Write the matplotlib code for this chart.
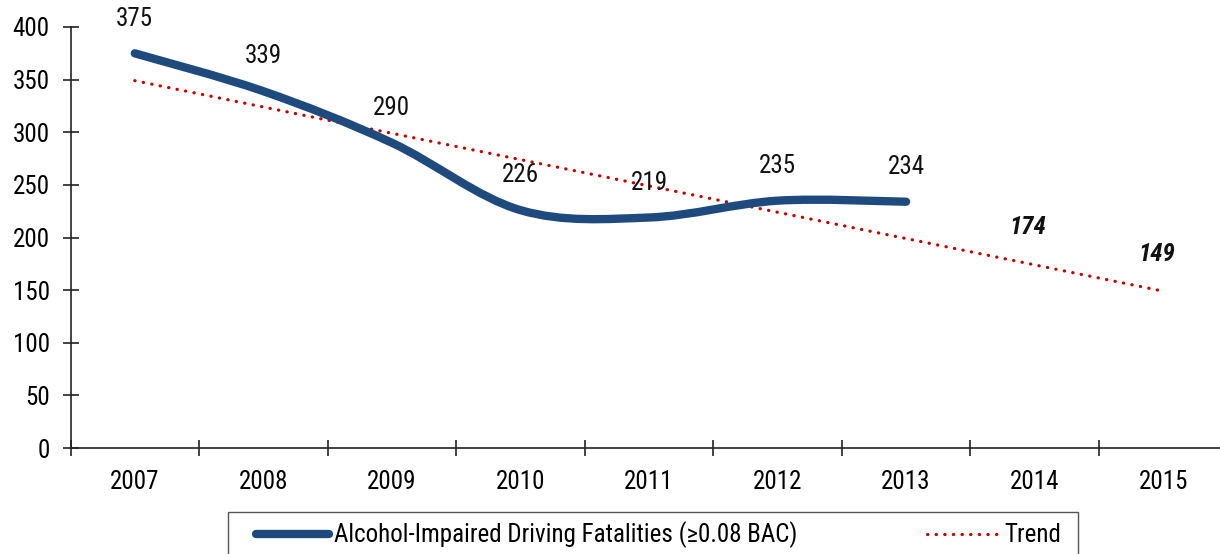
import matplotlib
matplotlib.use('Agg')
import matplotlib.pyplot as plt
from matplotlib.path import Path
from matplotlib.patches import PathPatch, Rectangle
from matplotlib.lines import Line2D

# Data
years = ['2007', '2008', '2009', '2010', '2011', '2012', '2013', '2014', '2015']
fatalities = [375, 339, 290, 226, 219, 235, 234]
trend_values = [349, 324, 299, 274, 249, 224, 199, 174, 149]
projected_labels = {7: 174, 8: 149}
y_ticks = [0, 50, 100, 150, 200, 250, 300, 350, 400]
series_names = ['Alcohol-Impaired Driving Fatalities (\u22650.08 BAC)', 'Trend']

blue = '#1F4A7E'
red = '#C00000'
fs = 18

plt.rcParams['font.family'] = ['Roboto Condensed', 'DejaVu Sans']
plt.rcParams['font.size'] = fs

fig = plt.figure(figsize=(12.2, 5.54), dpi=100)
ax = fig.add_axes([70.5 / 1220, 106 / 554, 1157 / 1220, 421 / 554])

# Smoothed line (Excel style bezier through the points)
xs = list(range(len(fatalities)))
verts = [(xs[0], fatalities[0])]
codes = [Path.MOVETO]
n = len(xs)
for i in range(n - 1):
    p0 = (xs[max(i - 1, 0)], fatalities[max(i - 1, 0)])
    p1 = (xs[i], fatalities[i])
    p2 = (xs[i + 1], fatalities[i + 1])
    p3 = (xs[min(i + 2, n - 1)], fatalities[min(i + 2, n - 1)])
    c1 = (p1[0] + (p2[0] - p0[0]) / 6, p1[1] + (p2[1] - p0[1]) / 6)
    c2 = (p2[0] - (p3[0] - p1[0]) / 6, p2[1] - (p3[1] - p1[1]) / 6)
    verts += [c1, c2, p2]
    codes += [Path.CURVE4] * 3
curve = PathPatch(Path(verts, codes), facecolor='none', edgecolor=blue,
                  linewidth=6, capstyle='round', joinstyle='round', zorder=3)
ax.add_patch(curve)

# Trend line
dots = (0, (0.1, 2.6))
ax.plot(range(len(trend_values)), trend_values, color=red, linewidth=2.3,
        linestyle=dots, dash_capstyle='round', zorder=2)

# Data labels
for i, v in enumerate(fatalities):
    ax.annotate(str(v), (i, v), xytext=(0, 25), textcoords='offset points',
                ha='center', va='center', fontsize=fs, color='#111111')
for i, v in projected_labels.items():
    ax.annotate(str(v), (i, trend_values[i]), xytext=(-5, 27), textcoords='offset points',
                ha='center', va='center', fontsize=fs, fontweight='bold',
                fontstyle='italic', color='#111111')

# Axes styling
ax.set_xlim(-0.5, len(years) - 0.5)
ax.set_ylim(0, 400)
ax.set_yticks(y_ticks)
ax.set_xticks(range(len(years)))
ax.set_xticklabels(years)
ax.set_xticks([i - 0.5 for i in range(len(years))], minor=True)
for s in ['top', 'right']:
    ax.spines[s].set_visible(False)
for s in ['left', 'bottom']:
    ax.spines[s].set_color('#222222')
    ax.spines[s].set_linewidth(1.2)
ax.tick_params(axis='y', direction='inout', length=11, width=1.2, color='#222222', pad=9.5)
ax.tick_params(axis='x', which='major', length=0, pad=16)
ax.tick_params(axis='x', which='minor', direction='inout', length=11, width=1.2, color='#222222')

# Legend (frame drawn separately so it can run off the bottom edge)
handles = [
    Line2D([0], [0], color=blue, linewidth=6, solid_capstyle='round'),
    Line2D([0], [0], color=red, linewidth=2.3, linestyle=dots, dash_capstyle='round'),
]
fig.legend(handles, series_names, loc='center left',
           bbox_to_anchor=(236 / 1220, (554 - 535) / 554), ncol=2,
           frameon=False, fontsize=fs, handlelength=2.9,
           handletextpad=0.2, columnspacing=5.2, borderpad=0.3)
fig.patches.append(Rectangle((228 / 1220, -0.05), 850 / 1220, 0.05 + (554 - 512) / 554,
                             transform=fig.transFigure, facecolor='none',
                             edgecolor='#555555', linewidth=1.0))

fig.savefig('out.png', dpi=100)
